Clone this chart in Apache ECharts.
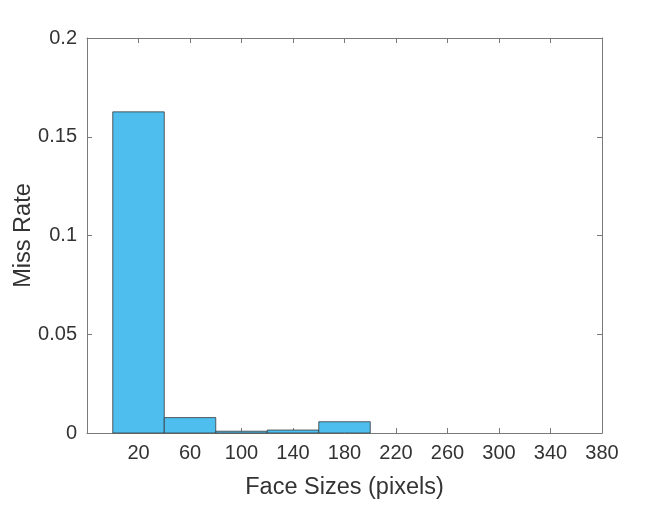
<!DOCTYPE html>
<html>
<head>
<meta charset="utf-8">
<script src="https://cdn.jsdelivr.net/npm/echarts@6/dist/echarts.min.js"></script>
<style>
  html, body { margin: 0; padding: 0; background: #fff; }
  #chart { width: 665px; height: 505px; }
</style>
</head>
<body>
<div id="chart"></div>
<script>
// histogram bins (pixels) and miss rate per bin
const binStarts = [0, 40, 80, 120, 160]
const binEnds = [40, 80, 120, 160, 200]
const missRate = [0.1626, 0.0078, 0.0009, 0.0015, 0.0057]
const xTicks = [20, 60, 100, 140, 180, 220, 260, 300, 340, 380]

const font = 'Liberation Sans'
const textColor = '#333'
const lineColor = '#7a7a7a'

const chart = echarts.init(document.getElementById('chart'))

const frameX = (pos) => ({
  type: 'value',
  position: pos,
  min: -20,
  max: 380,
  axisLine: { show: true, onZero: false, lineStyle: { color: lineColor, width: 1 } },
  axisTick: { show: true, inside: true, length: 5, customValues: xTicks, lineStyle: { color: lineColor } },
  axisLabel: pos === 'bottom'
    ? { show: true, customValues: xTicks, color: textColor, fontFamily: font, fontSize: 20, margin: 10 }
    : { show: false },
  splitLine: { show: false }
})

const frameY = (pos) => ({
  type: 'value',
  position: pos,
  min: 0,
  max: 0.2,
  interval: 0.05,
  axisLine: { show: true, onZero: false, lineStyle: { color: lineColor, width: 1 } },
  axisTick: { show: true, inside: true, length: 5, lineStyle: { color: lineColor } },
  axisLabel: pos === 'left'
    ? { show: true, color: textColor, fontFamily: font, fontSize: 20, margin: 10 }
    : { show: false },
  splitLine: { show: false }
})

const xBottom = frameX('bottom')
xBottom.name = 'Face Sizes (pixels)'
xBottom.nameLocation = 'middle'
xBottom.nameGap = 43
xBottom.nameMoveOverlap = false
xBottom.nameTextStyle = { color: textColor, fontFamily: font, fontSize: 23.5 }

const yLeft = frameY('left')
yLeft.name = 'Miss Rate'
yLeft.nameLocation = 'middle'
yLeft.nameGap = 51
yLeft.nameMoveOverlap = false
yLeft.nameTextStyle = { color: textColor, fontFamily: font, fontSize: 23.5 }

const option = {
  animation: false,
  backgroundColor: '#fff',
  grid: { left: 87, right: 63, top: 38, bottom: 72, containLabel: false, outerBoundsMode: 'none' },
  xAxis: [xBottom, frameX('top')],
  yAxis: [yLeft, frameY('right')],
  series: [
    {
      type: 'custom',
      xAxisIndex: 0,
      yAxisIndex: 0,
      encode: { x: [0, 1], y: 2 },
      data: binStarts.map((s, i) => [s, binEnds[i], missRate[i]]),
      renderItem: (params, api) => {
        const p0 = api.coord([api.value(0), 0])
        const p1 = api.coord([api.value(1), api.value(2)])
        return {
          type: 'rect',
          shape: { x: p0[0], y: p1[1], width: p1[0] - p0[0], height: p0[1] - p1[1] },
          style: { fill: '#4DBEEE', stroke: '#3a3a3a', lineWidth: 0.8 }
        }
      }
    }
  ]
}

chart.setOption(option)
</script>
</body>
</html>
